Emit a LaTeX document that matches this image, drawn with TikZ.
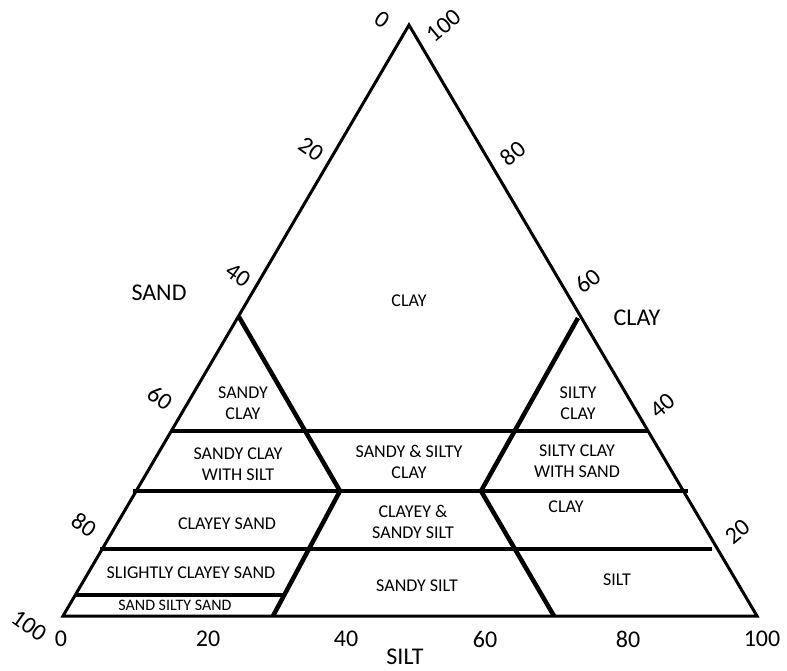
\documentclass[tikz,border=0pt]{standalone}
\usepackage{fontspec}
\setmainfont{Carlito}
\begin{document}
\begin{tikzpicture}[x=1pt,y=-1pt,
  outer/.style={line width=3pt, line join=miter},
  zone/.style={line width=4.5pt},
  reg/.style={font=\fontsize{18}{21}\selectfont, align=center, inner sep=0pt},
  smallreg/.style={font=\fontsize{16}{19}\selectfont, align=center, inner sep=0pt},
  tick/.style={font=\fontsize{24}{27}\selectfont, inner sep=0pt},
  ltick/.style={tick, rotate=-35},
  rtick/.style={tick, rotate=40},
  axis/.style={font=\fontsize{24}{28}\selectfont, inner sep=0pt}]
\useasboundingbox (0,0) rectangle (787,670);
% outer triangle
\coordinate (A) at (63,616);
\coordinate (B) at (757,616);
\coordinate (C) at (409,25);
\draw[outer] (A) -- (B) -- (C) -- cycle;
% horizontal zone boundaries
\coordinate (L1) at (171,431); \coordinate (R1) at (649,431);
\coordinate (L2) at (133,491); \coordinate (R2) at (688,491);
\coordinate (L3) at (100,549); \coordinate (R3) at (712,549);
\coordinate (L4) at (76,595);  \coordinate (E4) at (284,595);
\draw[zone] (L1) -- (R1);
\draw[zone] (L2) -- (R2);
\draw[zone] (L3) -- (R3);
\draw[zone] (L4) -- (E4);
% diagonal boundaries
\coordinate (D1a) at (239,317); \coordinate (D1b) at (340,491); \coordinate (D1c) at (273,616);
\coordinate (D2a) at (578,318); \coordinate (D2b) at (481,491); \coordinate (D2c) at (554,616);
\draw[zone] (D1a) -- (D1b) -- (D1c);
\draw[zone] (D2a) -- (D2b) -- (D2c);
% region labels
\node[reg] (clay) at (409,301) {CLAY};
\node[reg] (sc) at (243,403) {SANDY\\CLAY};
\node[reg] (sic) at (578,403) {SILTY\\CLAY};
\node[reg] (scws) at (238,464) {SANDY CLAY\\WITH SILT};
\node[reg] (sasic) at (409,462) {SANDY \& SILTY\\CLAY};
\node[reg] (sicws) at (577,461) {SILTY CLAY\\WITH SAND};
\node[reg] (cs) at (227,524) {CLAYEY SAND};
\node[reg] (cass) at (413,522) {CLAYEY \&\\SANDY SILT};
\node[reg] (clay2) at (566,507) {CLAY};
\node[reg] (scs) at (191,573) {SLIGHTLY CLAYEY SAND};
\node[smallreg] (sss) at (175,605) {SAND SILTY SAND};
\node[reg] (ss) at (417,586) {SANDY SILT};
\node[reg] (silt) at (617,580) {SILT};
% axis names
\node[axis] (sand) at (159,293) {SAND};
\node[axis] (clayax) at (637,318) {CLAY};
\node[axis] (siltax) at (405,657) {SILT};
% bottom ticks
\node[tick] (b0) at (61,639) {0};
\node[tick] (b20) at (208,639) {20};
\node[tick] (b40) at (346,639) {40};
\node[tick] (b60) at (485,639) {60};
\node[tick] (b80) at (628,639) {80};
\node[tick] (b100) at (762,639) {100};
% left ticks
\node[ltick] (l0) at (382,20) {0};
\node[ltick] (l20) at (311,149) {20};
\node[ltick] (l40) at (238,275) {40};
\node[ltick] (l60) at (160,398) {60};
\node[ltick] (l80) at (84,525) {80};
\node[ltick] (l100) at (29,626) {100};
% right ticks
\node[rtick] (r100) at (444,26) {100};
\node[rtick] (r80) at (513,153) {80};
\node[rtick] (r60) at (588,281) {60};
\node[rtick] (r40) at (663,406) {40};
\node[rtick] (r20) at (738,532) {20};
\end{tikzpicture}
\end{document}
